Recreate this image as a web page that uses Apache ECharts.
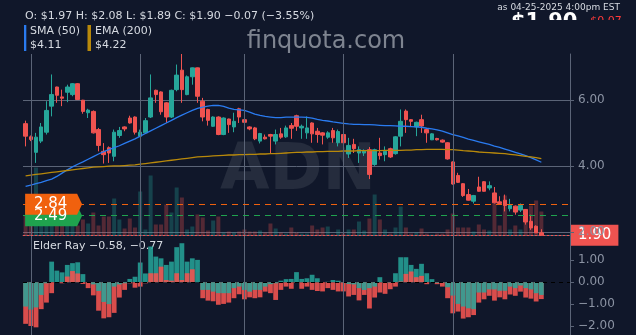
<!DOCTYPE html>
<html>
<head>
<meta charset="utf-8">
<script src="https://cdn.jsdelivr.net/npm/echarts@6.0.0/dist/echarts.min.js"></script>
<style>
  html, body { margin: 0; padding: 0; background: #10172a; }
  #chart { width: 636px; height: 335px; }
</style>
</head>
<body>
<div id="chart"></div>
<script>
// trading days shown, per month
const nov24 = [29];
const dec24 = [2, 3, 4, 5, 6, 9, 10, 11, 12, 13, 16, 17, 18, 19, 20, 23, 24, 26, 27, 30, 31];
const jan25 = [2, 3, 6, 7, 8, 10, 13, 14, 15, 16, 17, 21, 22, 23, 24, 27, 28, 29, 30, 31];
const feb25 = [3, 4, 5, 6, 7, 10, 11, 12, 13, 14, 18, 19, 20, 21, 24, 25, 26, 27, 28];
const mar25 = [3, 4, 5, 6, 7, 10, 11, 12, 13, 14, 17, 18, 19, 20, 21, 24, 25, 26, 27, 28, 31];
const apr25 = [1, 2, 3, 4, 7, 8, 9, 10, 11, 14, 15, 16, 17, 21, 22, 23, 24, 25];

const opens = [
  5.28, 4.88, 4.41, 4.75, 5.02, 5.81, 6.39, 6.09, 6.23, 6.16,
  6.49, 5.99, 5.61, 5.65, 5.10, 4.44, 4.55, 4.29, 4.92, 5.18,
  5.45, 5.48, 4.90, 5.00, 5.48, 6.29, 6.24, 5.91, 5.48, 6.31,
  6.90, 6.16, 6.70, 6.97, 5.96, 5.71, 5.20, 5.48, 4.95, 5.42,
  5.18, 5.73, 5.40, 5.18, 5.15, 4.75, 4.87, 4.95, 4.75, 4.97,
  4.88, 5.22, 5.52, 5.15, 5.00, 5.30, 5.05, 5.00, 4.87, 5.07,
  4.70, 4.95, 4.36, 4.65, 4.39, 4.39, 4.49, 4.04, 4.39, 4.34,
  4.52, 4.37, 4.90, 5.66, 5.40, 5.18, 5.40, 5.10, 4.79, 4.83,
  4.78, 4.70, 4.12, 3.71, 3.46, 3.13, 2.93, 3.36, 3.52, 3.33,
  3.18, 2.91, 2.96, 2.70, 2.78, 2.66, 2.68, 2.32, 2.17, 1.97
];
const closes = [
  4.90, 4.80, 4.87, 5.18, 5.68, 6.16, 6.14, 6.05, 6.39, 6.49,
  6.01, 5.65, 5.69, 5.00, 4.62, 4.34, 4.39, 5.02, 5.07, 5.12,
  5.30, 5.02, 5.02, 5.37, 6.06, 6.16, 5.64, 5.48, 6.29, 6.75,
  6.31, 6.70, 6.97, 6.11, 5.48, 5.38, 5.48, 4.95, 5.45, 5.25,
  5.35, 5.48, 5.32, 5.12, 4.82, 4.98, 4.82, 4.90, 4.95, 4.87,
  5.15, 5.14, 5.20, 5.20, 5.15, 4.97, 4.95, 4.93, 5.00, 4.85,
  5.04, 4.70, 4.62, 4.52, 4.49, 4.45, 3.74, 4.49, 4.31, 4.44,
  4.27, 4.88, 5.35, 5.40, 5.35, 5.32, 5.21, 5.00, 4.97, 4.79,
  4.72, 4.21, 3.45, 3.50, 3.10, 2.96, 3.10, 3.23, 3.23, 3.40,
  2.88, 2.86, 2.80, 2.80, 2.60, 2.80, 2.30, 2.12, 1.97, 1.90
];
const lows = [
  4.59, 4.75, 4.09, 4.69, 4.95, 5.50, 5.91, 5.81, 5.93, 6.11,
  6.00, 5.58, 5.45, 4.98, 4.44, 4.07, 4.09, 4.14, 4.85, 5.05,
  5.28, 4.95, 4.88, 4.98, 5.45, 5.91, 5.55, 5.30, 5.45, 6.26,
  5.91, 6.14, 6.46, 5.91, 5.35, 5.22, 5.18, 4.93, 4.93, 5.00,
  5.02, 5.30, 5.00, 5.08, 4.78, 4.68, 4.80, 4.39, 4.65, 4.82,
  4.85, 4.82, 5.06, 4.82, 4.82, 4.70, 4.70, 4.65, 4.82, 4.70,
  4.59, 4.59, 4.24, 4.39, 4.09, 4.30, 3.60, 4.00, 4.19, 4.14,
  4.24, 4.34, 4.59, 5.00, 5.20, 4.90, 5.00, 4.70, 4.78, 4.77,
  4.70, 4.19, 3.43, 3.48, 3.06, 2.95, 2.86, 3.22, 3.22, 3.26,
  2.86, 2.85, 2.62, 2.62, 2.52, 2.60, 2.22, 2.06, 1.97, 1.89
];
const highs = [
  5.37, 4.92, 5.00, 5.30, 5.96, 6.77, 6.40, 6.31, 6.46, 6.51,
  6.51, 6.00, 5.73, 5.68, 5.15, 4.69, 4.59, 5.10, 5.18, 5.20,
  5.52, 5.50, 5.10, 5.45, 6.77, 6.31, 6.26, 5.93, 6.31, 7.07,
  7.39, 6.74, 6.98, 6.98, 6.06, 5.73, 5.50, 5.50, 5.47, 5.43,
  5.61, 5.76, 5.42, 5.20, 5.18, 5.00, 4.95, 4.97, 5.10, 5.15,
  5.22, 5.30, 5.55, 5.25, 5.50, 5.32, 5.15, 5.02, 5.05, 5.15,
  5.10, 4.97, 4.85, 4.82, 4.59, 4.50, 4.57, 4.52, 4.85, 4.59,
  4.55, 4.90, 5.71, 5.71, 5.42, 5.34, 5.55, 5.13, 4.99, 4.85,
  4.80, 4.72, 4.14, 3.79, 3.48, 3.30, 3.12, 3.67, 3.54, 3.53,
  3.36, 3.08, 3.13, 3.00, 2.80, 2.86, 2.69, 2.52, 2.20, 2.08
];
// volume, thousands of shares
const volumes = [
  400, 200, 1360, 500, 600, 700, 400, 300, 300, 240,
  200, 320, 240, 460, 200, 380, 380, 740, 320, 140,
  340, 160, 880, 120, 1200, 220, 220, 620, 460, 960,
  760, 120, 180, 420, 360, 100, 300, 380, 60, 80,
  60, 80, 120, 80, 80, 100, 60, 240, 140, 60,
  40, 160, 60, 40, 40, 200, 120, 160, 180, 20,
  120, 40, 120, 120, 280, 100, 340, 820, 320, 120,
  40, 160, 580, 160, 40, 60, 140, 40, 20, 40,
  40, 120, 440, 160, 160, 160, 80, 220, 120, 100,
  640, 200, 800, 120, 200, 120, 500, 600, 700, 480
];
const sma50 = [
  3.38, 3.42, 3.46, 3.50, 3.55, 3.60, 3.68, 3.78, 3.88, 3.97,
  4.05, 4.12, 4.20, 4.28, 4.36, 4.43, 4.49, 4.55, 4.61, 4.68,
  4.75, 4.82, 4.90, 4.98, 5.06, 5.14, 5.22, 5.30, 5.38, 5.46,
  5.54, 5.61, 5.68, 5.74, 5.78, 5.81, 5.83, 5.83, 5.80, 5.75,
  5.71, 5.70, 5.68, 5.63, 5.57, 5.53, 5.50, 5.48, 5.46, 5.46,
  5.48, 5.48, 5.48, 5.48, 5.47, 5.45, 5.41, 5.38, 5.36, 5.33,
  5.31, 5.29, 5.27, 5.26, 5.26, 5.25, 5.25, 5.24, 5.23, 5.22,
  5.22, 5.21, 5.20, 5.20, 5.19, 5.18, 5.17, 5.14, 5.12, 5.09,
  5.05, 5.00, 4.95, 4.91, 4.86, 4.81, 4.77, 4.73, 4.69, 4.65,
  4.60, 4.56, 4.51, 4.46, 4.41, 4.36, 4.31, 4.25, 4.18, 4.11
];
const ema200 = [
  3.70, 3.72, 3.74, 3.76, 3.78, 3.80, 3.82, 3.84, 3.86, 3.88,
  3.90, 3.92, 3.94, 3.96, 3.97, 3.98, 3.99, 4.00, 4.00, 4.01,
  4.02, 4.03, 4.05, 4.07, 4.09, 4.11, 4.13, 4.15, 4.17, 4.19,
  4.21, 4.23, 4.25, 4.27, 4.28, 4.29, 4.30, 4.31, 4.32, 4.33,
  4.33, 4.34, 4.34, 4.35, 4.35, 4.36, 4.36, 4.37, 4.37, 4.38,
  4.39, 4.40, 4.41, 4.41, 4.42, 4.42, 4.43, 4.43, 4.44, 4.44,
  4.44, 4.45, 4.45, 4.45, 4.46, 4.46, 4.46, 4.46, 4.46, 4.47,
  4.47, 4.47, 4.47, 4.48, 4.48, 4.49, 4.49, 4.50, 4.50, 4.50,
  4.50, 4.49, 4.49, 4.48, 4.46, 4.45, 4.44, 4.42, 4.41, 4.40,
  4.39, 4.38, 4.37, 4.35, 4.33, 4.31, 4.29, 4.27, 4.25, 4.22
];
const bullPower = [
  -1.11, -1.25, -1.15, -0.58, -0.05, 0.94, 0.53, 0.45, 0.79, 0.87,
  0.91, 0.37, 0.00, -0.10, -0.40, -0.90, -1.00, -0.20, -0.10, -0.05,
  0.15, 0.25, 0.90, 0.40, 1.63, 1.17, 1.09, 0.79, 0.94, 1.60,
  1.78, 0.94, 1.09, 1.02, -0.35, -0.35, -0.43, -0.50, -0.50, -0.50,
  -0.27, -0.20, -0.35, -0.43, -0.35, -0.35, -0.20, -0.09, -0.05, 0.07,
  0.14, 0.15, 0.46, 0.15, 0.18, 0.34, 0.18, 0.00, 0.02, 0.10,
  0.07, -0.02, -0.08, -0.10, -0.27, -0.35, -0.27, -0.20, 0.23, -0.02,
  -0.02, 0.41, 1.14, 1.14, 0.79, 0.61, 0.84, 0.41, 0.14, -0.03,
  -0.02, -0.23, -0.61, -0.99, -1.11, -1.19, -1.23, -0.47, -0.47, -0.33,
  -0.33, -0.39, -0.39, -0.20, -0.27, -0.15, -0.27, -0.33, -0.50, -0.58
];
const bearPower = [
  -1.90, -2.00, -2.06, -1.23, -0.93, -0.50, 0.00, -0.05, 0.26, 0.51,
  0.40, -0.08, -0.27, -0.60, -1.30, -1.65, -1.60, -1.40, -0.70, -0.35,
  -0.05, -0.25, -0.20, -0.05, 0.41, 0.41, 0.71, 0.10, 0.07, 0.41,
  0.10, 0.41, 0.59, 0.00, -0.73, -0.84, -0.87, -1.03, -0.99, -0.93,
  -0.73, -0.55, -0.78, -0.69, -0.73, -0.69, -0.43, -0.50, -0.81, -0.35,
  -0.20, -0.30, -0.02, -0.30, -0.20, -0.35, -0.40, -0.42, -0.27, -0.35,
  -0.42, -0.42, -0.65, -0.58, -0.83, -0.58, -1.20, -0.70, -0.47, -0.53,
  -0.32, -0.20, 0.03, 0.38, 0.49, 0.23, 0.29, -0.09, 0.00, -0.09,
  -0.20, -0.73, -1.42, -1.34, -1.66, -1.60, -1.50, -0.93, -0.78, -0.62,
  -0.84, -0.69, -0.78, -0.56, -0.62, -0.43, -0.70, -0.75, -0.88, -0.77
];
const levels = [2.49, 2.84];
const priceTicks = [2, 4, 6];
const elderTicks = [-2, -1, 0, 1];

const BG = '#10172a';
const UP = '#26a69a';
const DOWN = '#ef5350';
const GRID = '#5b6477';
const LABEL = '#8b93a3';
const TEXT = '#d6dae1';
const FONT = 'DejaVu Sans';
const levelColors = ['#1fa34e', '#f0610e'];

const pad = d => String(d).padStart(2, '0');
const months = [['2024-11', nov24], ['2024-12', dec24], ['2025-01', jan25],
                ['2025-02', feb25], ['2025-03', mar25], ['2025-04', apr25]];
const dates = [];
months.forEach(([ym, days]) => days.forEach(d => dates.push(ym + '-' + pad(d))));
const monthStarts = months.slice(1).map(([ym, days]) => ym + '-' + pad(days[0]));
const cats = dates.concat(['x1', 'x2', 'x3', 'x4', 'x5']);

const fmt = v => (v < 0 ? '\u2212' : '') + Math.abs(v).toFixed(2);

const candles = opens.map((o, i) => [o, closes[i], lows[i], highs[i]]);
const volData = volumes.map((v, i) => ({
  value: v,
  itemStyle: { color: closes[i] >= opens[i] ? 'rgba(38,166,154,0.3)' : 'rgba(239,83,80,0.3)' }
}));
const outer = [], inner = [];
bullPower.forEach((b, i) => {
  const r = bearPower[i];
  const bull = { value: b, itemStyle: { color: 'rgba(38,166,154,0.85)' } };
  const bear = { value: r, itemStyle: { color: 'rgba(239,83,80,0.9)' } };
  if (Math.abs(b) >= Math.abs(r)) { outer.push(bull); inner.push(bear); }
  else { outer.push(bear); inner.push(bull); }
});

const last = candles.length - 1;
const chg = closes[last] - closes[last - 1];
const pct = chg / closes[last - 1] * 100;
const header = 'O: $' + opens[last].toFixed(2) + ' H: $' + highs[last].toFixed(2) +
  ' L: $' + lows[last].toFixed(2) + ' C: $' + closes[last].toFixed(2) +
  ' ' + fmt(chg) + ' (' + fmt(pct) + '%)';

const monthLines = {
  silent: true, symbol: 'none', label: { show: false },
  lineStyle: { color: GRID, type: 'solid', width: 1 },
  emphasis: { disabled: true },
  data: monthStarts.map(d => ({ xAxis: d }))
};

const chart = echarts.init(document.getElementById('chart'));
const option = {
  backgroundColor: BG,
  animation: false,
  textStyle: { fontFamily: FONT },
  grid: [
    { left: 23, right: 66, top: 54, height: 181.5 },
    { left: 23, right: 66, top: 236, bottom: 0 }
  ],
  xAxis: [
    { type: 'category', gridIndex: 0, data: cats, boundaryGap: true,
      axisLine: { show: true, lineStyle: { color: GRID } },
      axisTick: { show: false }, axisLabel: { show: false }, splitLine: { show: false } },
    { type: 'category', gridIndex: 1, data: cats, boundaryGap: true,
      axisLine: { show: false }, axisTick: { show: false },
      axisLabel: { show: false }, splitLine: { show: false } }
  ],
  yAxis: [
    { type: 'value', gridIndex: 0, position: 'right', min: 1.89, max: 7.39,
      axisLine: { show: false }, axisTick: { show: false, customValues: priceTicks },
      axisLabel: { show: false, customValues: priceTicks },
      splitLine: { show: true, lineStyle: { color: GRID, width: 1 } } },
    { type: 'value', gridIndex: 0, min: 0, max: 3630, show: false,
      splitLine: { show: false } },
    { type: 'value', gridIndex: 0, position: 'right', min: 1.89, max: 7.39, z: 10,
      axisLine: { show: true, lineStyle: { color: GRID } },
      axisTick: { show: true, length: 4, customValues: priceTicks, lineStyle: { color: GRID } },
      axisLabel: { customValues: priceTicks, formatter: v => fmt(v), color: LABEL,
                   fontSize: 12, margin: 8, fontFamily: FONT },
      splitLine: { show: false } },
    { type: 'value', gridIndex: 1, position: 'right', min: -2.41, max: 2.11,
      axisLine: { show: true, lineStyle: { color: GRID } },
      axisTick: { show: true, length: 4, customValues: elderTicks, lineStyle: { color: GRID } },
      axisLabel: { customValues: elderTicks, formatter: v => fmt(v), color: LABEL,
                   fontSize: 12, margin: 8, fontFamily: FONT },
      splitLine: { show: false } }
  ],
  series: [
    { name: 'Volume', type: 'bar', xAxisIndex: 0, yAxisIndex: 1, data: volData,
      barWidth: 4, silent: true, markLine: monthLines },
    { name: 'ADN', type: 'candlestick', xAxisIndex: 0, yAxisIndex: 0, data: candles,
      barWidth: 4, silent: true,
      itemStyle: { color: UP, color0: DOWN, borderColor: UP, borderColor0: DOWN, borderWidth: 1 },
      markLine: {
        silent: true, symbol: 'none',
        data: [
          { yAxis: levels[0], lineStyle: { color: levelColors[0], type: [6, 5], width: 1.2 }, label: { show: false } },
          { yAxis: levels[1], lineStyle: { color: levelColors[1], type: [6, 5], width: 1.2 }, label: { show: false } },
          { yAxis: closes[last], lineStyle: { color: DOWN, type: [2, 2], width: 1 },
            label: { show: true, position: 'end', distance: 1, formatter: closes[last].toFixed(2),
                     backgroundColor: DOWN, color: '#ffffff', padding: [3, 7, 3, 7],
                     fontSize: 15, fontFamily: FONT } }
        ]
      },
      markPoint: {
        silent: true, z: 6,
        symbol: 'path://M0,0L52,0L57,10.5L52,21L0,21Z',
        symbolSize: [57, 21], symbolKeepAspect: false, symbolOffset: [28, 0],
        label: { show: true, position: 'inside', color: '#ffffff', fontSize: 15,
                 fontFamily: FONT, offset: [-3, 0], formatter: p => p.value.toFixed(2) },
        data: levels.map((lv, k) => ({ coord: [cats[0], lv], value: lv,
                                       itemStyle: { color: levelColors[k] } }))
      } },
    { name: 'SMA (50)', type: 'line', xAxisIndex: 0, yAxisIndex: 0, data: sma50,
      symbol: 'none', silent: true, lineStyle: { color: '#2a7bf0', width: 1.3 } },
    { name: 'EMA (200)', type: 'line', xAxisIndex: 0, yAxisIndex: 0, data: ema200,
      symbol: 'none', silent: true, lineStyle: { color: '#b8890b', width: 1.3 } },
    { name: 'Elder outer', type: 'bar', xAxisIndex: 1, yAxisIndex: 3, data: outer,
      barCategoryGap: '8%', silent: true,
      markLine: {
        silent: true, symbol: 'none', label: { show: false },
        data: [{ yAxis: 0, lineStyle: { color: '#000000', type: [4, 4], width: 1 } }]
          .concat(monthStarts.map(d => ({ xAxis: d, lineStyle: { color: GRID, type: 'solid', width: 1 } })))
      } },
    { name: 'Elder inner', type: 'bar', xAxisIndex: 1, yAxisIndex: 3, data: inner,
      barCategoryGap: '8%', barGap: '-100%', silent: true }
  ],
  graphic: [
    { type: 'text', z: -1, x: 298, y: 172,
      style: { text: 'ADN', fill: '#252c3d', font: 'bold 64px "DejaVu Sans"',
               align: 'center', verticalAlign: 'middle' } },
    { type: 'text', x: 326, y: 42,
      style: { text: 'finquota.com', fill: '#7e8490', font: '24px "DejaVu Sans"',
               align: 'center', verticalAlign: 'middle' } },
    { type: 'text', x: 25, y: 16,
      style: { text: header, fill: TEXT, font: '11px "DejaVu Sans"', verticalAlign: 'middle' } },
    { type: 'rect', shape: { x: 24, y: 25, width: 2.3, height: 26 }, style: { fill: '#2a7bf0' } },
    { type: 'rect', shape: { x: 87.5, y: 25, width: 3.5, height: 26 }, style: { fill: '#b8890b' } },
    { type: 'text', x: 30, y: 31.5,
      style: { text: 'SMA (50)', fill: TEXT, font: '11px "DejaVu Sans"', verticalAlign: 'middle' } },
    { type: 'text', x: 30, y: 45.5,
      style: { text: '$' + sma50[last].toFixed(2), fill: TEXT, font: '11px "DejaVu Sans"', verticalAlign: 'middle' } },
    { type: 'text', x: 95, y: 31.5,
      style: { text: 'EMA (200)', fill: TEXT, font: '11px "DejaVu Sans"', verticalAlign: 'middle' } },
    { type: 'text', x: 95, y: 45.5,
      style: { text: '$' + ema200[last].toFixed(2), fill: TEXT, font: '11px "DejaVu Sans"', verticalAlign: 'middle' } },
    { type: 'text', x: 33, y: 246.5,
      style: { text: 'Elder Ray ' + fmt(bullPower[last]) + ', ' + fmt(bearPower[last]),
               fill: TEXT, font: '11px "DejaVu Sans"', verticalAlign: 'middle' } },
    { type: 'text', x: 620, y: 7.5,
      style: { text: 'as 04-25-2025 4:00pm EST', fill: TEXT, font: '9px "DejaVu Sans"',
               align: 'right', verticalAlign: 'middle' } },
    { type: 'text', x: 511, y: 12,
      style: { text: '$' + closes[last].toFixed(2), fill: '#ffffff', font: 'bold 21px "DejaVu Sans"',
               verticalAlign: 'top' } },
    { type: 'text', x: 581, y: 15.5,
      style: { text: fmt(chg).replace('\u2212', '\u2212$'), fill: '#ff3b3b', font: '11px "DejaVu Sans"',
               verticalAlign: 'top' } },
    { type: 'rect', z: 100, shape: { x: 490, y: 20, width: 146, height: 32 }, style: { fill: BG } }
  ]
};
chart.setOption(option);
</script>
</body>
</html>
